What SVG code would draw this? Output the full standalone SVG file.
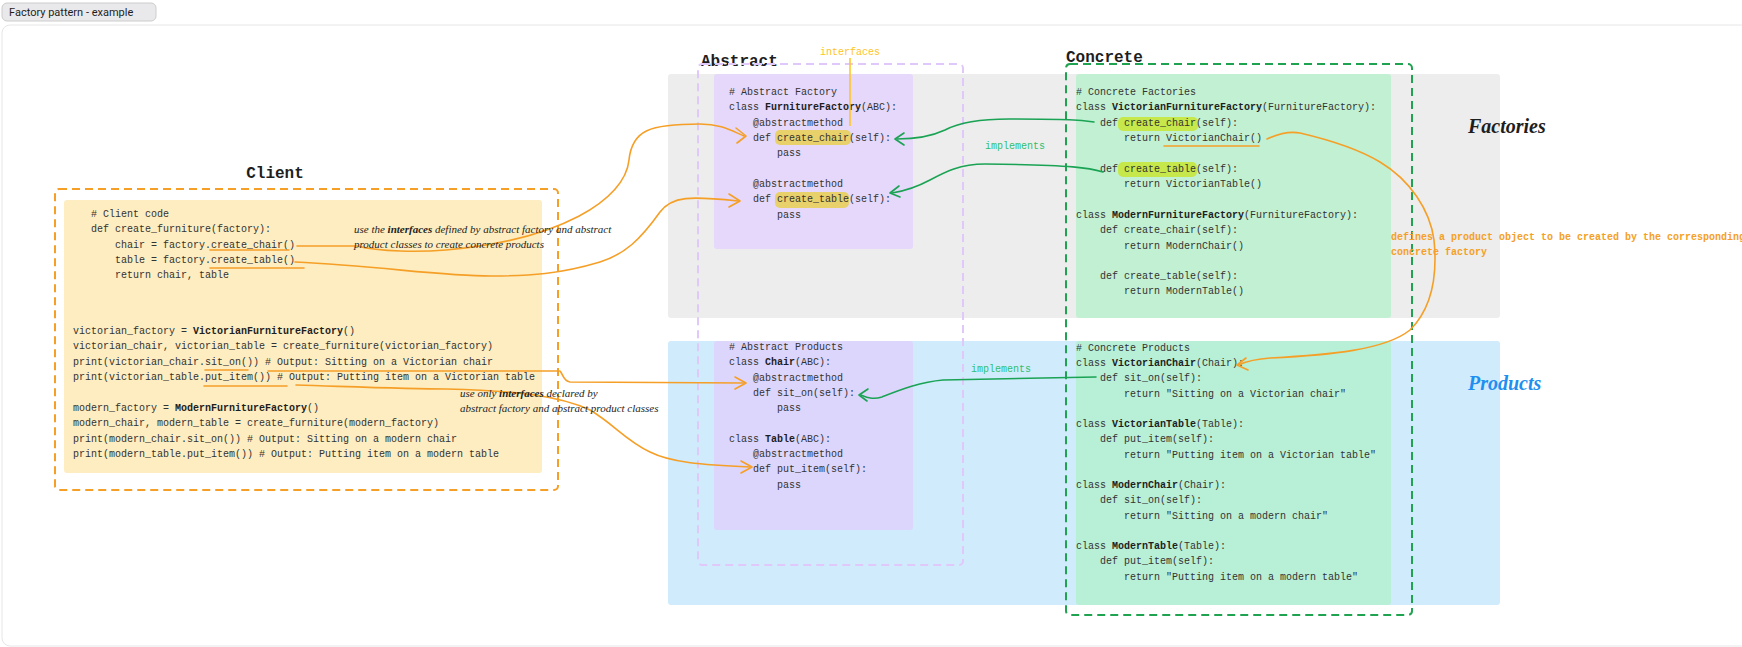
<svg xmlns="http://www.w3.org/2000/svg" width="1742" height="647" viewBox="0 0 1742 647">
<style>
.c{font-family:"Liberation Mono","DejaVu Sans Mono",monospace;font-size:10px;fill:#333}
.b{font-weight:bold;fill:#1e1e1e}
.h{font-family:"Liberation Mono",monospace;font-size:16px;font-weight:bold;fill:#1e1e1e}
.hw{font-family:"Liberation Serif",serif;font-style:italic;font-size:11px;fill:#1e1e1e}
.big{font-family:"Liberation Serif",serif;font-style:italic;font-weight:bold;font-size:20px}
.o{fill:none;stroke:#f59f27;stroke-width:1.6;stroke-linecap:round;stroke-linejoin:round}
.g{fill:none;stroke:#1aa354;stroke-width:1.6;stroke-linecap:round;stroke-linejoin:round}
.lbl{font-family:"Liberation Mono",monospace;font-size:10px}
</style>
<rect x="2" y="3" width="154" height="18" rx="5" fill="#e9e9ec" stroke="#ccc"/>
<text x="9" y="16" font-family="Roboto,'Liberation Sans',sans-serif" font-size="11" fill="#1e1e1e">Factory pattern - example</text>
<rect x="2" y="25" width="1760" height="621" rx="8" fill="#fff" stroke="#e6e6e6"/>

<g id="bands">
<rect x="668" y="74" width="832" height="244" rx="3" fill="#ededed"/>
<rect x="668" y="341" width="832" height="264" rx="3" fill="#d0ebfc"/>
<text class="big" x="1468" y="133" fill="#1e1e1e">Factories</text>
<text class="big" x="1468" y="390" fill="#1e8ff0">Products</text>
</g>

<g id="client">
<text class="h" x="275" y="178" text-anchor="middle">Client</text>
<rect x="55" y="189" width="503" height="301" rx="4" fill="none" stroke="#f59f27" stroke-width="2" stroke-dasharray="8 5"/>
<rect x="64" y="200" width="478" height="273" rx="3" fill="#fdedc0"/>
<text class="c" x="91" y="217"># Client code</text>
<text class="c" x="91" y="232">def create_furniture(factory):</text>
<text class="c" x="115" y="248">chair = factory.create_chair()</text>
<text class="c" x="115" y="263">table = factory.create_table()</text>
<text class="c" x="115" y="278">return chair, table</text>
<text class="c" x="73" y="334">victorian_factory = <tspan class="b">VictorianFurnitureFactory</tspan>()</text>
<text class="c" x="73" y="349">victorian_chair, victorian_table = create_furniture(victorian_factory)</text>
<text class="c" x="73" y="365">print(victorian_chair.sit_on())  # Output: Sitting on a Victorian chair</text>
<text class="c" x="73" y="380">print(victorian_table.put_item())  # Output: Putting item on a Victorian table</text>
<text class="c" x="73" y="411">modern_factory = <tspan class="b">ModernFurnitureFactory</tspan>()</text>
<text class="c" x="73" y="426">modern_chair, modern_table = create_furniture(modern_factory)</text>
<text class="c" x="73" y="442">print(modern_chair.sit_on())  # Output: Sitting on a modern chair</text>
<text class="c" x="73" y="457">print(modern_table.put_item())  # Output: Putting item on a modern table</text>
</g>

<g id="abstract">
<text class="h" x="701" y="66">Abstract</text>
<rect x="698" y="64" width="265" height="501" rx="4" fill="none" stroke="#e0c8fb" stroke-width="2" stroke-dasharray="8 5"/>
<rect x="714" y="74" width="199" height="175" rx="3" fill="#e5d8fa"/>
<rect x="714" y="341" width="199" height="189" rx="3" fill="#dcd6fc"/>
<rect x="775" y="130" width="76" height="15" rx="5" fill="#e8d06a"/>
<rect x="775" y="192" width="74" height="16" rx="5" fill="#e8d06a"/>
<text class="c" x="729" y="95"># Abstract Factory</text>
<text class="c" x="729" y="110">class <tspan class="b">FurnitureFactory</tspan>(ABC):</text>
<text class="c" x="753" y="126">@abstractmethod</text>
<text class="c" x="753" y="141">def create_chair(self):</text>
<text class="c" x="777" y="156">pass</text>
<text class="c" x="753" y="187">@abstractmethod</text>
<text class="c" x="753" y="202">def create_table(self):</text>
<text class="c" x="777" y="218">pass</text>
<text class="c" x="729" y="350"># Abstract Products</text>
<text class="c" x="729" y="365">class <tspan class="b">Chair</tspan>(ABC):</text>
<text class="c" x="753" y="381">@abstractmethod</text>
<text class="c" x="753" y="396">def sit_on(self):</text>
<text class="c" x="777" y="411">pass</text>
<text class="c" x="729" y="442">class <tspan class="b">Table</tspan>(ABC):</text>
<text class="c" x="753" y="457">@abstractmethod</text>
<text class="c" x="753" y="472">def put_item(self):</text>
<text class="c" x="777" y="488">pass</text>
<text class="lbl" x="850" y="55" text-anchor="middle" fill="#ffc419">interfaces</text>
<line x1="850" y1="58" x2="850" y2="126" stroke="#ffc419" stroke-width="1.5"/>
</g>

<g id="concrete">
<text class="h" x="1066" y="62">Concrete</text>
<rect x="1066" y="64" width="346" height="551" rx="4" fill="none" stroke="#1fa350" stroke-width="2" stroke-dasharray="8 5"/>
<rect x="1076" y="74" width="315" height="244" rx="3" fill="#c2f0d2"/>
<rect x="1076" y="341" width="315" height="264" rx="3" fill="#b8efd7"/>
<rect x="1118" y="117" width="80" height="14" rx="5" fill="#c6e84a"/>
<rect x="1118" y="162" width="79" height="15" rx="5" fill="#c6e84a"/>
<text class="c" x="1076" y="95"># Concrete Factories</text>
<text class="c" x="1076" y="110">class <tspan class="b">VictorianFurnitureFactory</tspan>(FurnitureFactory):</text>
<text class="c" x="1100" y="126">def create_chair(self):</text>
<text class="c" x="1124" y="141">return VictorianChair()</text>
<text class="c" x="1100" y="172">def create_table(self):</text>
<text class="c" x="1124" y="187">return VictorianTable()</text>
<text class="c" x="1076" y="218">class <tspan class="b">ModernFurnitureFactory</tspan>(FurnitureFactory):</text>
<text class="c" x="1100" y="233">def create_chair(self):</text>
<text class="c" x="1124" y="249">return ModernChair()</text>
<text class="c" x="1100" y="279">def create_table(self):</text>
<text class="c" x="1124" y="294">return ModernTable()</text>
<text class="c" x="1076" y="351"># Concrete Products</text>
<text class="c" x="1076" y="366">class <tspan class="b">VictorianChair</tspan>(Chair):</text>
<text class="c" x="1100" y="381">def sit_on(self):</text>
<text class="c" x="1124" y="397">return "Sitting on a Victorian chair"</text>
<text class="c" x="1076" y="427">class <tspan class="b">VictorianTable</tspan>(Table):</text>
<text class="c" x="1100" y="442">def put_item(self):</text>
<text class="c" x="1124" y="458">return "Putting item on a Victorian table"</text>
<text class="c" x="1076" y="488">class <tspan class="b">ModernChair</tspan>(Chair):</text>
<text class="c" x="1100" y="503">def sit_on(self):</text>
<text class="c" x="1124" y="519">return "Sitting on a modern chair"</text>
<text class="c" x="1076" y="549">class <tspan class="b">ModernTable</tspan>(Table):</text>
<text class="c" x="1100" y="564">def put_item(self):</text>
<text class="c" x="1124" y="580">return "Putting item on a modern table"</text>
</g>

<g id="connectors">
<line class="o" x1="210" y1="250" x2="289" y2="250"/>
<line class="o" x1="210" y1="268" x2="304" y2="268"/>
<line class="o" x1="205" y1="370" x2="248" y2="370"/>
<line class="o" x1="204" y1="386" x2="287" y2="386"/>
<line class="o" x1="1164" y1="146" x2="1259" y2="146"/>
<path class="o" d="M297 246 L357 246 C380 252 420 252 446 250 C560 240 625 200 629 160 C632 130 650 124 700 124 C720 124 730 130 744 136"/>
<path class="o" d="M736 128 L746 136 L737 143"/>
<path class="o" d="M295 262 C380 266 440 276 491 276 C530 276 560 274 600 262 C625 254 640 240 660 212 C672 196 690 196 738 201"/>
<path class="o" d="M729 194 L740 201 L729 207"/>
<path class="o" d="M268 371 L560 371 C563 374 563 381 570 382 L744 383"/>
<path class="o" d="M735 377 L746 383 L735 389"/>
<path class="o" d="M296 385 C360 387 410 389 446 389 C520 391 560 396 590 410 C615 425 625 440 650 452 C670 462 700 465 750 467"/>
<path class="o" d="M741 461 L752 467 L741 473"/>
<path class="o" d="M1267 139 C1280 133 1290 131 1300 133 C1330 140 1360 150 1380 162 C1410 180 1430 210 1434 240 C1438 280 1430 310 1410 330 C1385 350 1330 355 1270 358 C1255 359 1245 362 1238 365"/>
<path class="o" d="M1246 358 L1237 365 L1248 370"/>
<path class="g" d="M1094 122 C1080 120 1070 119 1009 119 C980 119 960 122 945 130 C930 137 915 139 897 139"/>
<path class="g" d="M904 133 L895 139 L904 145"/>
<path class="g" d="M1103 172 C1090 168 1075 165 985 164 C960 164 945 172 930 180 C915 188 905 191 892 193"/>
<path class="g" d="M899 186 L890 193 L900 197"/>
<path class="g" d="M1096 377 L943 380 C920 382 900 390 882 397 C872 400 866 397 861 395"/>
<path class="g" d="M868 389 L859 395 L867 401"/>
<text class="lbl" x="1015" y="149" text-anchor="middle" fill="#2fbf71">implements</text>
<text class="lbl" x="1001" y="372" text-anchor="middle" fill="#2fbf71">implements</text>
<text class="lbl" x="1391" y="240" fill="#f59f27" font-weight="bold">defines a product object to be created by the corresponding</text>
<text class="lbl" x="1391" y="255" fill="#f59f27" font-weight="bold">concrete factory</text>
<text class="hw" x="354" y="233">use the <tspan font-weight="bold">interfaces</tspan> defined by abstract factory and abstract</text>
<text class="hw" x="354" y="248">product classes to create concrete products</text>
<text class="hw" x="460" y="397">use only <tspan font-weight="bold">interfaces</tspan> declared by</text>
<text class="hw" x="460" y="412">abstract factory and abstract product classes</text>
</g>
</svg>
